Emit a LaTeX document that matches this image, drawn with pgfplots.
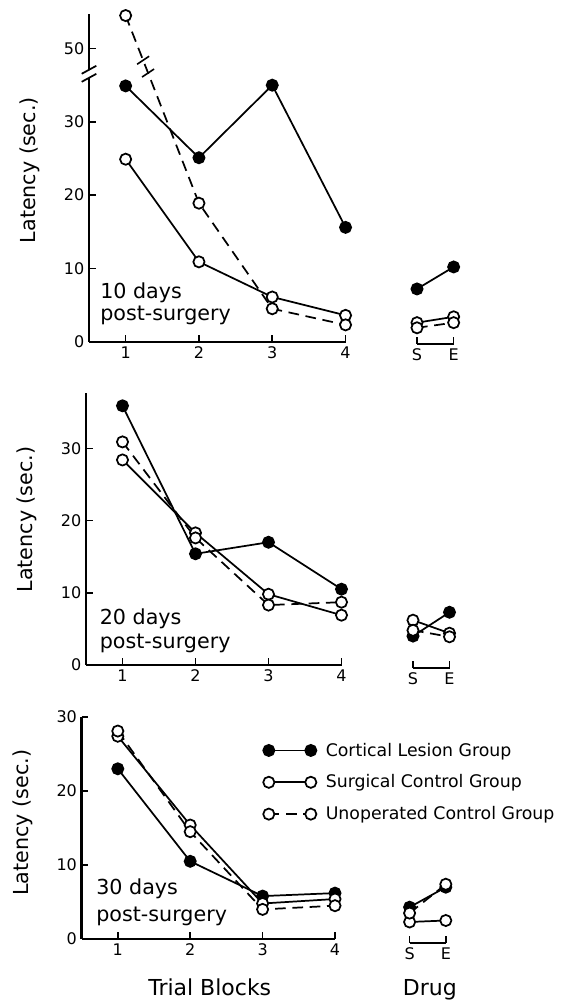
\documentclass[border=0pt]{standalone}
\usepackage{fontspec}
\setmainfont{DejaVu Sans}
\usepackage{pgfplots}
\pgfplotsset{compat=1.18}

\pgfplotsset{
  base/.style={
    axis x line*=bottom, axis y line*=left,
    axis line style={line width=1.8pt, -},
    tick align=inside, major tick length=5pt,
    every tick/.style={line width=1.2pt, black},
    ticklabel style={font=\fontsize{12}{14}\selectfont},
    /pgf/number format/assume math mode=true,
    clip=false,
    anchor=south west,
  },
  drug/.style={base, axis y line=none, ytick=\empty, xmin=5, xmax=5.5,
    xtick={5,5.5}, xticklabels={S,E}},
  cl/.style={black, line width=1.3pt, mark=*, mark size=4.2pt, mark options={solid, fill=black}},
  sc/.style={black, line width=1.3pt, mark=*, mark size=4.2pt, mark options={solid, fill=white}},
  uc/.style={black, line width=1.3pt, dash pattern=on 8pt off 5pt, mark=*, mark size=4.2pt, mark options={solid, fill=white}},
}
\newcommand\lab{\fontsize{15.5}{18}\selectfont}
\newcommand\biglab{\fontsize{16.5}{19}\selectfont}

\begin{document}
\begin{tikzpicture}
\path[use as bounding box] (0,0) rectangle (431.25pt,753pt);

% ---------------- Panel 1: 10 days ----------------
\begin{axis}[base, at={(66.75pt,496.7pt)}, x=54.975pt, y=5.4975pt,
  xmin=0.5, xmax=4, ymin=0, ymax=44.7, xtick={1,2,3,4},
  ytick={0,10,20,30,40}, yticklabels={0,10,20,30,50}]
\addplot[cl] coordinates {(1,34.9)(2,25.1)(3,35.0)(4,15.6)};
\addplot[sc] coordinates {(1,24.9)(2,10.9)(3,6.1)(4,3.6)};
% first value is 54.5 s, drawn above the axis break (axis value minus 10)
\addplot[uc] coordinates {(1,44.5)(2,18.9)(3,4.5)(4,2.3)};
\node[rotate=90, font=\lab] at (axis cs:-0.305,23.4) {Latency (sec.)};
\node[anchor=base west, inner sep=0pt, font=\lab] at (axis cs:0.65,5.96) {10 days};
\node[anchor=base west, inner sep=0pt, font=\lab] at (axis cs:0.65,2.96) {post-surgery};
\coordinate (yb1) at (axis cs:0.5,37.1);
\coordinate (yb2) at (axis cs:0.5,36.0);
\coordinate (lb1) at (axis cs:1.238,38.4);
\coordinate (lb2) at (axis cs:1.306,36.66);
\end{axis}
\fill[white] ([xshift=-2pt]yb1) rectangle ([xshift=2pt]yb2);
\draw[line width=1.3pt] ([xshift=-5.5pt,yshift=-3pt]yb1) -- ([xshift=5.5pt,yshift=3pt]yb1);
\draw[line width=1.3pt] ([xshift=-5.5pt,yshift=-3pt]yb2) -- ([xshift=5.5pt,yshift=3pt]yb2);
\draw[line width=1.2pt] ([xshift=-4.5pt,yshift=-3pt]lb1) -- ([xshift=4.5pt,yshift=3pt]lb1);
\draw[line width=1.2pt] ([xshift=-4.5pt,yshift=-3pt]lb2) -- ([xshift=4.5pt,yshift=3pt]lb2);

\begin{axis}[drug, at={(312.75pt,495pt)}, x=54.975pt, y=5.4975pt,
  ymin=-0.31, ymax=44.7]
\addplot[cl] coordinates {(5,7.2)(5.5,10.2)};
\addplot[sc] coordinates {(5,2.6)(5.5,3.4)};
\addplot[uc] coordinates {(5,1.9)(5.5,2.6)};
\end{axis}

% ---------------- Panel 2: 20 days ----------------
\begin{axis}[base, at={(64.5pt,254.25pt)}, x=54.75pt, y=5.415pt,
  xmin=0.5, xmax=4, ymin=0, ymax=37.7, xtick={1,2,3,4},
  ytick={0,10,20,30}]
\addplot[cl] coordinates {(1,35.9)(2,15.4)(3,17.0)(4,10.5)};
\addplot[sc] coordinates {(1,28.4)(2,18.3)(3,9.8)(4,6.9)};
\addplot[uc] coordinates {(1,30.9)(2,17.6)(3,8.3)(4,8.7)};
\node[rotate=90, font=\lab] at (axis cs:-0.308,20.15) {Latency (sec.)};
\node[anchor=base west, inner sep=0pt, font=\lab] at (axis cs:0.686,5.54) {20 days};
\node[anchor=base west, inner sep=0pt, font=\lab] at (axis cs:0.686,2.35) {post-surgery};
\end{axis}

\begin{axis}[drug, at={(309.75pt,252pt)}, x=54.75pt, y=5.415pt,
  ymin=-0.42, ymax=37.7]
\addplot[cl] coordinates {(5,4.0)(5.5,7.3)};
\addplot[sc] coordinates {(5,6.2)(5.5,4.4)};
\addplot[uc] coordinates {(5,4.8)(5.5,3.9)};
\end{axis}

% ---------------- Panel 3: 30 days ----------------
\begin{axis}[base, at={(61.2pt,48.75pt)}, x=54.3pt, y=5.55pt,
  xmin=0.5, xmax=4, ymin=0, ymax=30, xtick={1,2,3,4},
  ytick={0,10,20,30},
  legend cell align=left,
  legend style={at={(axis cs:3.005,26.9)}, anchor=north west, draw=none,
    fill=none, inner sep=0pt, font=\fontsize{13}{15}\selectfont,
    row sep=8.5pt, nodes={inner sep=2pt},
    /tikz/every odd column/.append style={column sep=5pt}},
  legend image code/.code={\draw[#1] plot coordinates {(0pt,0pt) (31.5pt,0pt)};}]
\addplot[cl] coordinates {(1,23.0)(2,10.5)(3,5.8)(4,6.2)};
\addlegendentry{Cortical Lesion Group}
\addplot[sc] coordinates {(1,27.4)(2,15.4)(3,4.8)(4,5.4)};
\addlegendentry{Surgical Control Group}
\addplot[uc] coordinates {(1,28.1)(2,14.5)(3,4.0)(4,4.5)};
\addlegendentry{Unoperated Control Group}
\node[rotate=90, font=\lab] at (axis cs:-0.315,15.7) {Latency (sec.)};
\node[anchor=base west, inner sep=0pt, font=\lab] at (axis cs:0.70,5.95) {30 days};
\node[anchor=base west, inner sep=0pt, font=\lab] at (axis cs:0.70,2.3) {post-surgery};
\node[anchor=base, inner sep=0pt, font=\biglab] at (axis cs:2.27,-7.57) {Trial Blocks};
\node[anchor=base, inner sep=0pt, font=\biglab] at (axis cs:5.31,-7.57) {Drug};
\end{axis}

\begin{axis}[drug, at={(307.2pt,45.75pt)}, x=54.3pt, y=5.55pt,
  ymin=-0.54, ymax=30]
\addplot[cl] coordinates {(5,4.3)(5.5,7.0)};
\addplot[sc] coordinates {(5,2.3)(5.5,2.5)};
\addplot[uc] coordinates {(5,3.5)(5.5,7.4)};
\end{axis}
\end{tikzpicture}
\end{document}
